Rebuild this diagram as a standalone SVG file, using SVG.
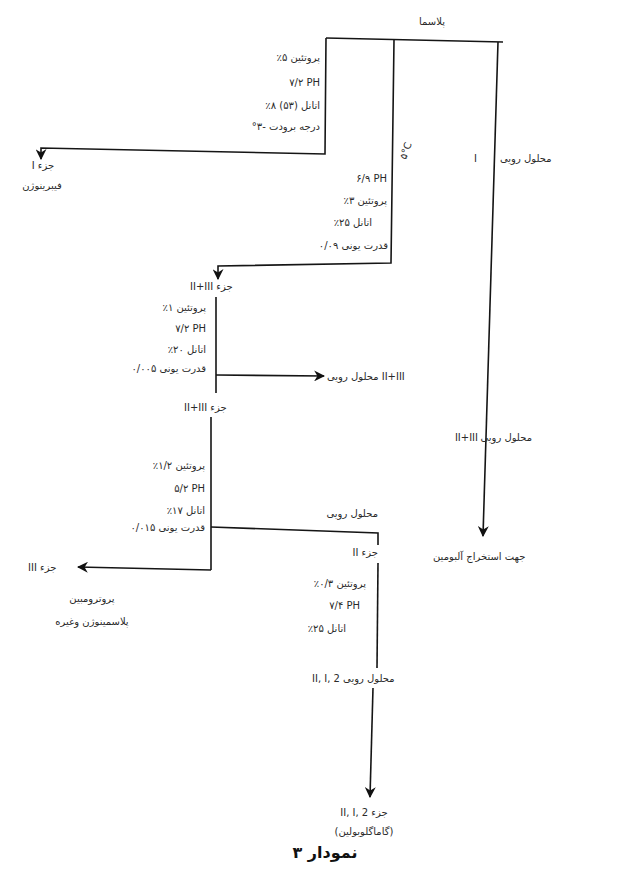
<svg xmlns="http://www.w3.org/2000/svg" width="619" height="871" viewBox="0 0 619 871">
<style>
.t{font-family:"DejaVu Sans","Noto Sans",sans-serif;font-size:10px;fill:#2a2a2a}
.e{text-anchor:end}
.m{text-anchor:middle}
.ln{fill:none;stroke:#151515;stroke-width:1.6}
.ti{font-family:"DejaVu Sans","Noto Sans",sans-serif;font-size:16px;font-weight:bold;fill:#111;text-anchor:middle}
</style>
<defs>
<marker id="ah" viewBox="0 0 10 10" refX="9" refY="5" markerWidth="11" markerHeight="11" markerUnits="userSpaceOnUse" orient="auto"><path d="M0,0 L10,5 L0,10 L3,5 z" fill="#111"/></marker>
</defs>
<rect width="619" height="871" fill="#fff"/>
<g id="connectors">
<path class="ln" d="M326,38 L503,42"/>
<path class="ln" d="M326,38 L325,154 L41,148 L41,159" marker-end="url(#ah)"/>
<path class="ln" d="M394,40 L391,263 L218,266 L218,279" marker-end="url(#ah)"/>
<path class="ln" d="M498,42 L483,536" marker-end="url(#ah)"/>
<path class="ln" d="M216,297 L216,393"/>
<path class="ln" d="M216,375 L324,376" marker-end="url(#ah)"/>
<path class="ln" d="M211,417 L211,570"/>
<path class="ln" d="M211,527 L378,533 L378,545"/>
<path class="ln" d="M211,570 L78,567" marker-end="url(#ah)"/>
<path class="ln" d="M378,563 L377,668"/>
<path class="ln" d="M373,688 L370,797" marker-end="url(#ah)"/>
</g>
<g id="plasma"><text class="t m" x="432" y="25">پلاسما&#x200F;</text></g>
<g id="cond1">
<text class="t e" x="320" y="61">پروتئین ۵٪&#x200F;</text>
<text class="t e" x="320" y="86">۷/۲ PH</text>
<text class="t e" x="320" y="109">اتانل (۵۳) ۸٪&#x200F;</text>
<text class="t e" x="320" y="130">درجه برودت -۳°&#x200F;</text>
</g>
<g id="fraction1">
<text class="t m" x="43" y="169">I جزء</text>
<text class="t m" x="42" y="189">فیبرینوژن&#x200F;</text>
</g>
<g id="temp"><text class="t" transform="translate(406,160) rotate(-70)" font-size="9">۵°C</text></g>
<g id="super1">
<text class="t" x="474" y="162">I</text>
<text class="t" x="500" y="162">محلول رویی&#x200F;</text>
</g>
<g id="cond2">
<text class="t e" x="387" y="182">۶/۹ PH</text>
<text class="t e" x="387" y="204">پروتئین ۳٪&#x200F;</text>
<text class="t e" x="372" y="226">اتانل ۲۵٪&#x200F;</text>
<text class="t e" x="388" y="249">قدرت یونی ۰/۰۹&#x200F;</text>
</g>
<g id="fraction23a"><text class="t" x="190" y="290">II+III جزء</text></g>
<g id="cond3">
<text class="t e" x="206" y="311">پروتئین ۱٪&#x200F;</text>
<text class="t e" x="206" y="332">۷/۲ PH</text>
<text class="t e" x="206" y="353">اتانل ۲۰٪&#x200F;</text>
<text class="t e" x="206" y="372">قدرت یونی ۰/۰۰۵&#x200F;</text>
</g>
<g id="super23"><text class="t" x="327" y="380">محلول رویی II+III</text></g>
<g id="super23b">
<text class="t e" x="478" y="441">II+III</text>
<text class="t e" x="532" y="441">محلول رویی&#x200F;</text>
</g>
<g id="fraction23b"><text class="t" x="184" y="411">II+III جزء</text></g>
<g id="cond4">
<text class="t e" x="205" y="469">پروتئین ۱/۲٪&#x200F;</text>
<text class="t e" x="205" y="492">۵/۲ PH</text>
<text class="t e" x="205" y="514">اتانل ۱۷٪&#x200F;</text>
<text class="t e" x="205" y="531">قدرت یونی ۰/۰۱۵&#x200F;</text>
</g>
<g id="super4"><text class="t e" x="378" y="517">محلول رویی&#x200F;</text></g>
<g id="fraction2"><text class="t e" x="378" y="556">II جزء</text></g>
<g id="albumin"><text class="t" x="433" y="560">جهت استخراج آلبومین&#x200F;</text></g>
<g id="fraction3">
<text class="t" x="28" y="571">III جزء</text>
<text class="t m" x="92" y="602">پروترومبین&#x200F;</text>
<text class="t m" x="92" y="625">پلاسمینوژن وغیره&#x200F;</text>
</g>
<g id="cond5">
<text class="t e" x="366" y="587">پروتئین ۰/۳٪&#x200F;</text>
<text class="t e" x="360" y="609">۷/۴ PH</text>
<text class="t e" x="346" y="632">اتانل ۲۵٪&#x200F;</text>
</g>
<g id="super5"><text class="t" x="312" y="682">II, I, 2 محلول رویی</text></g>
<g id="fraction2final">
<text class="t m" x="364" y="816">II, I, 2 جزء</text>
<text class="t m" x="364" y="835">(گاماگلوبولین)</text>
</g>
<g id="title"><text class="ti" x="325" y="858">نمودار ۳&#x200F;</text></g>
</svg>
